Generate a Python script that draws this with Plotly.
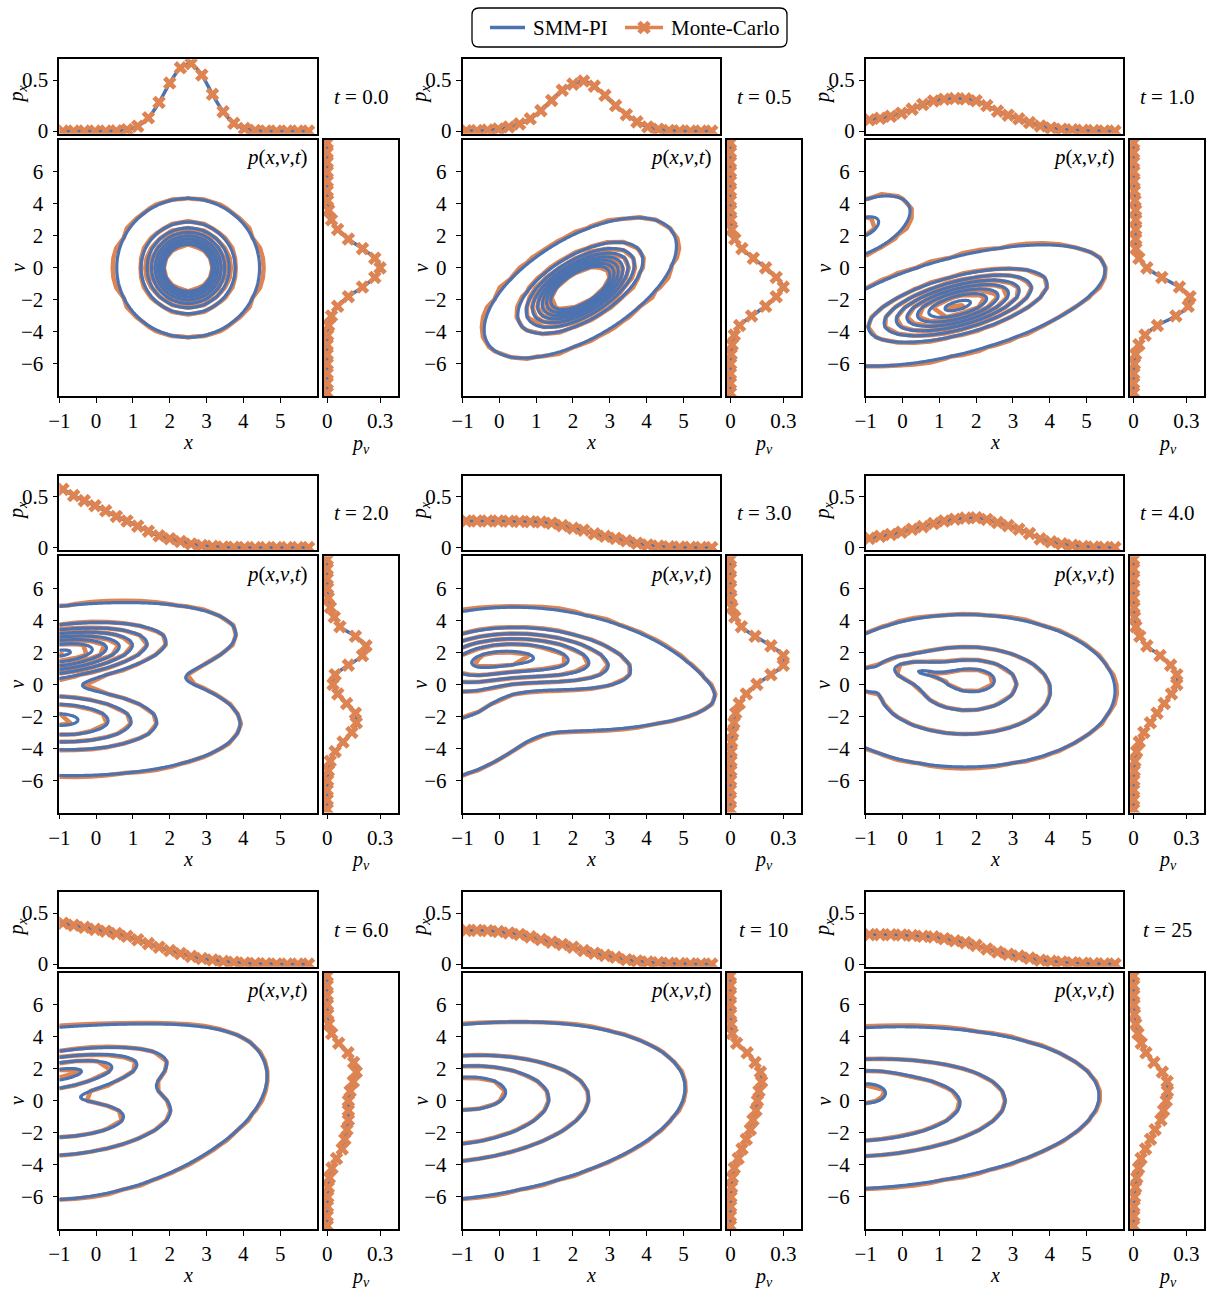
import numpy as np
import plotly.graph_objects as go

BLUE = "#4C72B0"
ORANGE = "#DD8452"
SERIF = "Liberation Serif"

W, H = 1213, 1289

TIMES = ["0.0", "0.5", "1.0", "2.0", "3.0", "4.0", "6.0", "10", "25"]

# sample positions of the marginal densities
X_GRID = [-0.9, -0.61, -0.32, -0.03, 0.26, 0.55, 0.84, 1.13, 1.42, 1.71, 2.0, 2.29,
          2.58, 2.87, 3.16, 3.45, 3.74, 4.03, 4.32, 4.61, 4.9, 5.19, 5.48, 5.77]
V_GRID = [-7.8, -7.2, -6.6, -6.0, -5.4, -4.8, -4.2, -3.6, -3.0, -2.4, -1.8, -1.2, -0.6,
          0.0, 0.6, 1.2, 1.8, 2.4, 3.0, 3.6, 4.2, 4.8, 5.4, 6.0, 6.6, 7.2, 7.8]

# marginal p_x(x, t)
PX_T00 = [0, 0, 0, 0, 0, 0.002, 0.013, 0.047, 0.13, 0.28, 0.47, 0.62, 0.66, 0.55, 0.36, 0.19,
          0.076, 0.025, 0.006, 0.001, 0, 0, 0, 0]
PX_T05 = [0.003, 0.005, 0.01, 0.02, 0.04, 0.07, 0.12, 0.2, 0.3, 0.4, 0.46, 0.49, 0.44, 0.35,
          0.25, 0.16, 0.09, 0.04, 0.018, 0.006, 0.002, 0, 0, 0]
PX_T10 = [0.11, 0.125, 0.145, 0.175, 0.215, 0.26, 0.295, 0.312, 0.318, 0.315, 0.297, 0.25,
          0.195, 0.155, 0.12, 0.083, 0.05, 0.03, 0.018, 0.012, 0.007, 0.004, 0.001, 0]
PX_T20 = [0.57, 0.51, 0.46, 0.41, 0.36, 0.305, 0.26, 0.21, 0.16, 0.115, 0.087, 0.06, 0.035,
          0.02, 0.012, 0.006, 0.003, 0.001, 0, 0, 0, 0, 0, 0]
PX_T30 = [0.26, 0.26, 0.26, 0.26, 0.258, 0.256, 0.253, 0.25, 0.238, 0.215, 0.19, 0.17, 0.135,
          0.11, 0.09, 0.066, 0.042, 0.025, 0.015, 0.008, 0.004, 0.002, 0.001, 0]
PX_T40 = [0.09, 0.11, 0.128, 0.15, 0.18, 0.205, 0.235, 0.26, 0.278, 0.288, 0.292, 0.275, 0.245,
          0.215, 0.18, 0.138, 0.085, 0.056, 0.036, 0.022, 0.011, 0.005, 0.002, 0]
PX_T60 = [0.40, 0.38, 0.36, 0.34, 0.322, 0.298, 0.272, 0.238, 0.2, 0.165, 0.132, 0.104, 0.075,
          0.054, 0.04, 0.027, 0.018, 0.011, 0.006, 0.003, 0.001, 0, 0, 0]
PX_T100 = [0.33, 0.33, 0.327, 0.318, 0.305, 0.29, 0.266, 0.24, 0.215, 0.192, 0.165, 0.132, 0.106,
           0.085, 0.066, 0.043, 0.03, 0.02, 0.013, 0.008, 0.004, 0.002, 0.001, 0]
PX_T250 = [0.288, 0.288, 0.287, 0.285, 0.279, 0.272, 0.266, 0.248, 0.228, 0.21, 0.183, 0.148,
           0.118, 0.096, 0.078, 0.058, 0.038, 0.027, 0.02, 0.013, 0.008, 0.004, 0.002, 0.001]

# marginal p_v(v, t)
PV_T00 = [0, 0, 0, 0, 0, 0, 0.002, 0.008, 0.024, 0.059, 0.12, 0.2, 0.27, 0.30, 0.27, 0.2, 0.12,
          0.059, 0.024, 0.008, 0.002, 0, 0, 0, 0, 0, 0]
PV_T05 = [0, 0, 0, 0.001, 0.004, 0.01, 0.022, 0.052, 0.12, 0.2, 0.26, 0.30, 0.26, 0.2, 0.13,
          0.065, 0.025, 0.008, 0.003, 0.001, 0, 0, 0, 0, 0, 0, 0]
PV_T10 = [0, 0, 0.001, 0.004, 0.011, 0.03, 0.065, 0.135, 0.24, 0.31, 0.32, 0.26, 0.16, 0.075,
          0.03, 0.013, 0.012, 0.012, 0.012, 0.011, 0.008, 0.004, 0.002, 0.001, 0, 0, 0]
PV_T20 = [0, 0, 0, 0.002, 0.006, 0.017, 0.045, 0.09, 0.14, 0.165, 0.16, 0.11, 0.06, 0.033,
          0.045, 0.12, 0.2, 0.22, 0.16, 0.072, 0.04, 0.018, 0.006, 0.002, 0, 0, 0]
PV_T30 = [0, 0, 0, 0.001, 0.002, 0.003, 0.004, 0.007, 0.013, 0.02, 0.03, 0.05, 0.09, 0.15, 0.23,
          0.30, 0.30, 0.23, 0.14, 0.062, 0.025, 0.009, 0.003, 0.001, 0, 0, 0]
PV_T40 = [0, 0, 0, 0.001, 0.003, 0.007, 0.017, 0.032, 0.058, 0.095, 0.133, 0.174, 0.215, 0.245,
          0.245, 0.21, 0.15, 0.075, 0.035, 0.013, 0.005, 0.002, 0, 0, 0, 0, 0]
PV_T60 = [0, 0, 0.001, 0.003, 0.006, 0.012, 0.027, 0.053, 0.085, 0.1, 0.112, 0.12, 0.12, 0.12,
          0.13, 0.148, 0.165, 0.15, 0.118, 0.065, 0.025, 0.008, 0.003, 0.001, 0, 0, 0]
PV_T100 = [0, 0, 0.001, 0.003, 0.006, 0.011, 0.022, 0.044, 0.066, 0.09, 0.113, 0.128, 0.145,
           0.153, 0.162, 0.177, 0.17, 0.14, 0.095, 0.035, 0.01, 0.004, 0.001, 0, 0, 0, 0]
PV_T250 = [0, 0.001, 0.002, 0.005, 0.011, 0.018, 0.028, 0.042, 0.068, 0.096, 0.122, 0.155, 0.17,
           0.185, 0.192, 0.19, 0.163, 0.115, 0.07, 0.043, 0.025, 0.012, 0.005, 0.002, 0.001, 0, 0]

# joint density p(x, v, t) as a sum of lobes:
# (peak, x0, v0, width_x, width_v, ridge_slope, ridge_curvature, shape)
COMP_T00 = [(0.201, 2.5, 0.0, 0.595, 1.33, 0.0, 0.0, 1.0)]
COMP_T05 = [(0.18, 2.2, -1.25, 0.81, 1.09, 1.0, 0.0, 1.0)]
COMP_T10 = [(0.114, 1.5, -2.35, 1.3, 1.0, 0.55, 0.0, 1.0),
            (0.03, -1.1, 2.5, 0.5, 0.65, 0.8, 0.0, 1.0)]
COMP_T20 = [(0.112, -1.0, 1.95, 1.56, 0.95, 0.25, 0.0, 1.0),
            (0.068, -1.0, -2.2, 1.69, 1.2, -0.05, 0.0, 1.0)]
COMP_T30 = [(0.076, 0.8, 1.7, 1.75, 1.15, -0.1, -0.06, 1.1),
            (0.028, -1.0, 0.9, 0.8, 1.0, 0.4, 0.0, 1.0),
            (0.02, -1.0, -1.5, 1.1, 1.7, 0.7, 0.0, 1.0),
            (0.006, 2.0, -1.0, 1.8, 1.0, 0.0, 0.0, 1.0)]
COMP_T40 = [(0.025, 1.9, 0.3, 0.6, 0.7, 0.0, 0.0, 1.0),
            (0.036, 1.7, -0.4, 2.2, 2.57, 0.0, 0.0, 1.6),
            (0.02, 0.3, 0.9, 0.6, 0.45, -0.25, 0.0, 1.0),
            (0.02, -1.0, 0.35, 0.2, 0.5, 0.0, 0.0, 1.0)]
COMP_T60 = [(0.022, -1.0, -0.8, 3.58, 3.4, 0.13, 0.05, 2.0),
            (0.05, -1.0, 1.7, 1.6, 0.8, 0.35, 0.0, 1.0),
            (0.027, -1.0, -1.2, 1.5, 0.9, 0.1, 0.0, 1.0)]
COMP_T100 = [(0.045, -1.0, -0.7, 2.85, 2.55, 0.25, 0.0, 1.35),
             (0.018, -1.0, 1.2, 1.2, 1.1, 0.0, 0.0, 1.0)]
COMP_T250 = [(0.045, -1.0, -0.45, 3.22, 2.55, 0.12, 0.0, 1.5),
             (0.01, -1.0, 0.8, 0.6, 0.8, 0.0, 0.0, 1.0)]

PX_ALL = [PX_T00, PX_T05, PX_T10, PX_T20, PX_T30, PX_T40, PX_T60, PX_T100, PX_T250]
PV_ALL = [PV_T00, PV_T05, PV_T10, PV_T20, PV_T30, PV_T40, PV_T60, PV_T100, PV_T250]
COMP_ALL = [COMP_T00, COMP_T05, COMP_T10, COMP_T20, COMP_T30, COMP_T40, COMP_T60,
            COMP_T100, COMP_T250]

# contour levels: one low outline level, then evenly spaced levels
LOW_LEVEL = 0.001
LEVEL_START, LEVEL_END, LEVEL_STEP = 0.02, 0.11, 0.015

# smooth solution grid and coarse sampling-histogram grid
X_FINE = np.linspace(-1.0, 6.0, 141)
V_FINE = np.linspace(-8.0, 8.0, 161)
X_COARSE = np.linspace(-1.0, 6.0, 17)
V_COARSE = np.linspace(-8.0, 8.0, 27)


def density(comps, x, v):
    X, V = np.meshgrid(x, v)
    Z = np.zeros_like(X)
    for P, mx, mv, sx, sv, k, c, beta in comps:
        dx = X - mx
        u = dx / sx
        w = (V - mv - k * dx - c * dx ** 2) / sv
        Z += P * np.exp(-0.5 * (u ** 2 + w ** 2) ** beta)
    return np.round(Z, 6)


def contour_pair(x, v, Z, color, width, smoothing, xa, ya):
    traces = []
    for start, end, size in [(LOW_LEVEL, LOW_LEVEL + 0.0005, 0.01),
                             (LEVEL_START, LEVEL_END + 0.0005, LEVEL_STEP)]:
        traces.append(go.Contour(
            x=x, y=v, z=Z, xaxis=xa, yaxis=ya,
            autocontour=False,
            contours=dict(start=start, end=end, size=size, coloring="lines", showlabels=False),
            line=dict(width=width, smoothing=smoothing),
            colorscale=[[0, color], [1, color]], showscale=False,
            hoverinfo="skip", showlegend=False))
    return traces


def fx(p):
    return p / W


def fy(p):
    return 1 - p / H


AX = dict(showline=True, linecolor="black", linewidth=1.6, mirror=True, showgrid=False,
          zeroline=False, ticks="outside", ticklen=5, tickwidth=1.3, tickcolor="black",
          automargin=False, tickfont=dict(family=SERIF, size=21, color="black"))
NOTICK = dict(AX, ticks="", showticklabels=False)

fig = go.Figure()
layout = {}
annotations = []
TXT = dict(family=SERIF, size=20, color="black")
TXT_L = dict(family=SERIF, size=21, color="black")

for i in range(9):
    r, c = divmod(i, 3)
    x0 = 59.3 + 403.2 * c
    ytop = 59.3 + 416.5 * r
    n_top, n_box, n_main, n_right = 4 * i + 1, 4 * i + 2, 4 * i + 3, 4 * i + 4

    def key(n, a):
        return f"{a}axis" if n == 1 else f"{a}axis{n}"

    def ref(n, a):
        return a if n == 1 else f"{a}{n}"

    dom_main_x = [fx(x0), fx(x0 + 257.7)]
    dom_side_x = [fx(x0 + 264.4), fx(x0 + 338.4)]
    dom_top_y = [fy(ytop + 74.4), fy(ytop)]
    dom_main_y = [fy(ytop + 336.7), fy(ytop + 80.4)]

    # top marginal p_x
    layout[key(n_top, "x")] = dict(NOTICK, domain=dom_main_x, range=[-1, 6], anchor=ref(n_top, "y"))
    layout[key(n_top, "y")] = dict(AX, domain=dom_top_y, range=[-0.026, 0.703],
                                   tickvals=[0, 0.5], ticktext=["0", "0.5"], anchor=ref(n_top, "x"))
    # time label box
    layout[key(n_box, "x")] = dict(NOTICK, domain=dom_side_x, range=[0, 1], anchor=ref(n_box, "y"))
    layout[key(n_box, "y")] = dict(NOTICK, domain=dom_top_y, range=[0, 1], anchor=ref(n_box, "x"))
    # joint density
    layout[key(n_main, "x")] = dict(AX, domain=dom_main_x, range=[-1, 6], tickvals=list(range(-1, 6)),
                                    anchor=ref(n_main, "y"))
    layout[key(n_main, "y")] = dict(AX, domain=dom_main_y, range=[-8, 8], ticklabelstandoff=5,
                                    tickvals=[-6, -4, -2, 0, 2, 4, 6], anchor=ref(n_main, "x"))
    # right marginal p_v
    layout[key(n_right, "x")] = dict(AX, domain=dom_side_x, range=[-0.02, 0.4], tickvals=[0, 0.3],
                                     ticktext=["0", "0.3"], anchor=ref(n_right, "y"))
    layout[key(n_right, "y")] = dict(NOTICK, domain=dom_main_y, range=[-8, 8], anchor=ref(n_right, "x"))

    comps = COMP_ALL[i]
    Zc = density(comps, X_COARSE, V_COARSE)
    Zf = density(comps, X_FINE, V_FINE)
    xa, ya = ref(n_main, "x"), ref(n_main, "y")
    for tr in contour_pair(X_COARSE, V_COARSE, Zc, ORANGE, 4.5, 0, xa, ya):
        fig.add_trace(tr)
    for tr in contour_pair(X_FINE, V_FINE, Zf, BLUE, 3.2, 1.0, xa, ya):
        fig.add_trace(tr)

    # marginals: SMM-PI curve and Monte-Carlo samples
    fig.add_trace(go.Scatter(x=X_GRID, y=PX_ALL[i], mode="lines",
                             line=dict(color=BLUE, width=3.5, shape="spline", smoothing=0.8),
                             xaxis=ref(n_top, "x"), yaxis=ref(n_top, "y"), showlegend=False,
                             hoverinfo="skip"))
    fig.add_trace(go.Scatter(x=X_GRID, y=PX_ALL[i], mode="markers",
                             marker=dict(symbol="x", size=12, color=ORANGE, line=dict(width=0)),
                             xaxis=ref(n_top, "x"), yaxis=ref(n_top, "y"), showlegend=False,
                             hoverinfo="skip"))
    fig.add_trace(go.Scatter(x=PV_ALL[i], y=V_GRID, mode="lines",
                             line=dict(color=BLUE, width=3.5, shape="spline", smoothing=0.8),
                             xaxis=ref(n_right, "x"), yaxis=ref(n_right, "y"), showlegend=False,
                             hoverinfo="skip"))
    fig.add_trace(go.Scatter(x=PV_ALL[i], y=V_GRID, mode="markers",
                             marker=dict(symbol="x", size=12, color=ORANGE, line=dict(width=0)),
                             xaxis=ref(n_right, "x"), yaxis=ref(n_right, "y"), showlegend=False,
                             hoverinfo="skip"))

    # labels
    annotations += [
        dict(text="<i>x</i>", x=fx(x0 + 128.8), y=fy(ytop + 383), xref="paper", yref="paper",
             showarrow=False, font=TXT, xanchor="center", yanchor="middle"),
        dict(text="<i>p</i><sub><i>v</i></sub>", x=fx(x0 + 301.4), y=fy(ytop + 385),
             xref="paper", yref="paper", showarrow=False, font=TXT, xanchor="center",
             yanchor="middle"),
        dict(text="<i>v</i>", x=fx(x0 - 42), y=fy(ytop + 208.5), xref="paper", yref="paper",
             showarrow=False, font=TXT, textangle=-90, xanchor="center", yanchor="middle"),
        dict(text="<i>p</i><sub><i>x</i></sub>", x=fx(x0 - 42), y=fy(ytop + 35),
             xref="paper", yref="paper", showarrow=False, font=TXT, textangle=-90,
             xanchor="center", yanchor="middle"),
        dict(text="<i>p</i>(<i>x</i>,<i>v</i>,<i>t</i>)", x=fx(x0 + 251), y=fy(ytop + 98),
             xref="paper", yref="paper", showarrow=False, font=TXT_L, xanchor="right",
             yanchor="middle"),
        dict(text=f"<i>t</i> = {TIMES[i]}", x=fx(x0 + 301.4), y=fy(ytop + 37.5),
             xref="paper", yref="paper", showarrow=False, font=TXT_L, xanchor="center",
             yanchor="middle"),
    ]

# legend drawn on a small overlay axis covering only the legend box
LX0, LX1, LY0, LY1 = 472, 787, 8, 47
layout["xaxis37"] = dict(domain=[fx(LX0), fx(LX1)], range=[LX0, LX1], visible=False,
                         fixedrange=True, automargin=False, anchor="y37")
layout["yaxis37"] = dict(domain=[fy(LY1), fy(LY0)], range=[LY1, LY0], visible=False,
                         fixedrange=True, automargin=False, anchor="x37")
fig.add_trace(go.Scatter(x=[490, 525], y=[27.5, 27.5], mode="lines",
                         line=dict(color=BLUE, width=3.5), xaxis="x37", yaxis="y37",
                         showlegend=False, hoverinfo="skip"))
fig.add_trace(go.Scatter(x=[625, 663], y=[27.5, 27.5], mode="lines",
                         line=dict(color=ORANGE, width=3.5), xaxis="x37", yaxis="y37",
                         showlegend=False, hoverinfo="skip"))
fig.add_trace(go.Scatter(x=[644], y=[27.5], mode="markers",
                         marker=dict(symbol="x", size=12, color=ORANGE, line=dict(width=0)),
                         xaxis="x37", yaxis="y37", showlegend=False, hoverinfo="skip"))
annotations += [
    dict(text="SMM-PI", x=fx(531), y=fy(27.5), xref="paper", yref="paper", showarrow=False,
         font=dict(family=SERIF, size=21, color="black"), xanchor="left", yanchor="middle"),
    dict(text="Monte-Carlo", x=fx(669), y=fy(27.5), xref="paper", yref="paper", showarrow=False,
         font=dict(family=SERIF, size=21, color="black"), xanchor="left", yanchor="middle"),
]
shapes = [dict(type="path", xref="paper", yref="paper",
               path=(f"M {fx(479)},{fy(8)} L {fx(780)},{fy(8)} Q {fx(787)},{fy(8)} {fx(787)},{fy(15)} "
                     f"L {fx(787)},{fy(40)} Q {fx(787)},{fy(47)} {fx(780)},{fy(47)} "
                     f"L {fx(479)},{fy(47)} Q {fx(472)},{fy(47)} {fx(472)},{fy(40)} "
                     f"L {fx(472)},{fy(15)} Q {fx(472)},{fy(8)} {fx(479)},{fy(8)} Z"),
               line=dict(color="black", width=1.3), fillcolor="rgba(0,0,0,0)")]

fig.update_layout(width=W, height=H, margin=dict(l=0, r=0, t=0, b=0, pad=0, autoexpand=False),
                  paper_bgcolor="white", plot_bgcolor="rgba(0,0,0,0)", showlegend=False,
                  annotations=annotations, shapes=shapes, **layout)

fig.write_html("out.html")
